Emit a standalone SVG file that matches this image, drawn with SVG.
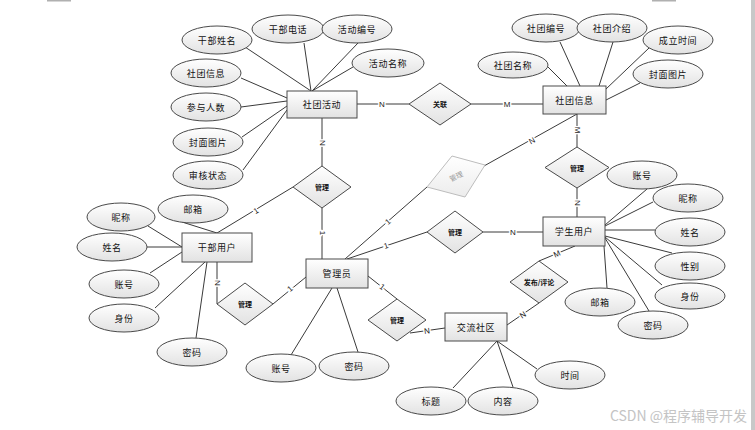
<svg xmlns="http://www.w3.org/2000/svg" width="755" height="430" viewBox="0 0 755 430">
<defs>
<linearGradient id="g" x1="0" y1="0" x2="0" y2="1"><stop offset="0" stop-color="#ffffff"/><stop offset="1" stop-color="#e2e2e2"/></linearGradient>
<linearGradient id="gg" x1="0" y1="0" x2="0" y2="1"><stop offset="0" stop-color="#ffffff"/><stop offset="1" stop-color="#ececec"/></linearGradient>
<style>
.e,.b,.d{fill:url(#g);stroke:#4a4a4a;stroke-width:1}
.gd{fill:url(#gg);stroke:#bdbdbd;stroke-width:1}
.ln{stroke:#3a3a3a;stroke-width:1;fill:none}
.t{font-family:"Noto Sans CJK SC","Noto Sans",sans-serif;font-size:9px;fill:#111;text-anchor:middle;dominant-baseline:central;letter-spacing:0.6px}
.dt{font-family:"Noto Sans CJK SC","Noto Sans",sans-serif;font-size:7px;font-weight:bold;fill:#111;text-anchor:middle;dominant-baseline:central}
.c{font-family:"Liberation Sans",sans-serif;font-size:8px;fill:#222;text-anchor:middle;dominant-baseline:central;stroke:#fff;stroke-width:3px;paint-order:stroke}
</style>
</defs>
<rect width="755" height="430" fill="#fff"/>
<rect x="47" y="0" width="24" height="1.5" fill="#b0b0b0"/>
<rect x="652" y="0" width="24" height="1.5" fill="#b0b0b0"/>
<rect x="751" y="0" width="4" height="430" fill="#c8c8c8"/>

<g id="connectors">
<path class="ln" d="M245,47L311,91M304,43L311,91M358,43L312,91M353,67L312,91M241,78L287,98M241,107L287,101M242,137L287,106M243,170L287,110"/>
<path class="ln" d="M357,104L409,104M471,104L543,104M322,118L322,166"/>
<path class="ln" d="M548,67L567,86M560,42L580,86M613,42L599,86M649,48L606,89M640,83L606,100M577,114L577,147M577,114L484,166"/>
<path class="ln" d="M577,188L577,217M483,232L543,232M647,189L605,225M653,202L605,226M655,230L605,230M672,253L605,236M662,285L605,237M649,311L605,238M607,288L604,246M575,246L539,261M539,303L507,325"/>
<path class="ln" d="M410,333L445,328M497,341L453,388M497,341L513,387M497,341L537,369"/>
<path class="ln" d="M368,276L397,299M345,259L427,187M347,259L427,232M322,259L322,208M306,277L273,304M332,288L291,355M337,288L358,352"/>
<path class="ln" d="M217,233L293,187M148,226L182,247M182,222L217,233M147,247L182,247M150,273L182,252M155,308L205,262M196,338L207,262M217,262L217,304"/>
<text class="c" x="382" y="104">N</text>
<text class="c" x="507" y="104">M</text>
<text class="c" transform="translate(322,143) rotate(90)">N</text>
<text class="c" transform="translate(577,130) rotate(90)">M</text>
<text class="c" transform="translate(577,203) rotate(90)">N</text>
<text class="c" transform="translate(217,283) rotate(90)">N</text>
<text class="c" transform="translate(322,233) rotate(90)">1</text>
<text class="c" x="513" y="232">N</text>
<text class="c" transform="translate(256,211) rotate(-31)">1</text>
<text class="c" transform="translate(388,222) rotate(-41)">1</text>
<text class="c" transform="translate(532,141) rotate(-29)">N</text>
<text class="c" transform="translate(386,246) rotate(-18)">1</text>
<text class="c" transform="translate(290,289) rotate(-40)">1</text>
<text class="c" transform="translate(382,287) rotate(37)">1</text>
<text class="c" transform="translate(427,331) rotate(-8)">N</text>
<text class="c" transform="translate(523,315) rotate(-34)">N</text>
<text class="c" transform="translate(557,254) rotate(-24)">M</text>
</g>

<g id="n-shetuanhuodong"><rect class="b" x="287" y="91" width="70" height="27"/><text class="t" x="322" y="104.5">社团活动</text></g>
<g id="n-shetuanxinxi"><rect class="b" x="543" y="86" width="63" height="28"/><text class="t" x="574.5" y="100">社团信息</text></g>
<g id="n-xueshengyonghu"><rect class="b" x="543" y="217" width="62" height="29"/><text class="t" x="574" y="231.5">学生用户</text></g>
<g id="n-guanliyuan"><rect class="b" x="306" y="259" width="62" height="29"/><text class="t" x="337" y="273.5">管理员</text></g>
<g id="n-ganbuyonghu"><rect class="b" x="182" y="233" width="70" height="29"/><text class="t" x="217" y="247.5">干部用户</text></g>
<g id="n-jiaoliushequ"><rect class="b" x="445" y="313" width="62" height="28"/><text class="t" x="476" y="327">交流社区</text></g>

<g id="r-guanlian"><polygon class="d" points="409,104 440,83 471,104 440,125"/><text class="dt" x="440" y="104">关联</text></g>
<g id="r-guanli1"><polygon class="d" points="293,187 322,166 351,187 322,208"/><text class="dt" x="322" y="187">管理</text></g>
<g id="r-guanli2"><polygon class="d" points="545,167.5 577,147 609,167.5 577,188"/><text class="dt" x="577" y="167.5">管理</text></g>
<g id="r-guanli3"><polygon class="d" points="427,232 455,211 483,232 455,253"/><text class="dt" x="455" y="232">管理</text></g>
<g id="r-guanli4"><polygon class="d" points="217,304 245,283 273,304 245,325"/><text class="dt" x="245" y="304">管理</text></g>
<g id="r-guanli5"><polygon class="d" points="368,320 397,299 426,320 397,341"/><text class="dt" x="397" y="320">管理</text></g>
<g id="r-fabu"><polygon class="d" points="510,282 539,261 568,282 539,303"/><text class="dt" x="539" y="282">发布/评论</text></g>
<g id="r-guanli-gray"><polygon class="gd" points="452,156 485,165 465,197 427,187"/><text class="dt" style="fill:#9a9a9a;font-weight:normal" transform="translate(456,176) rotate(-25)">管理</text></g>

<g id="a-ganbuxingming"><ellipse class="e" cx="217" cy="40" rx="35" ry="14"/><text class="t" x="217" y="40">干部姓名</text></g>
<g id="a-ganbudianhua"><ellipse class="e" cx="288" cy="29" rx="36" ry="14"/><text class="t" x="288" y="29">干部电话</text></g>
<g id="a-huodongbianhao"><ellipse class="e" cx="357" cy="29" rx="35" ry="14"/><text class="t" x="357" y="29">活动编号</text></g>
<g id="a-huodongmingcheng"><ellipse class="e" cx="388" cy="63" rx="36" ry="14"/><text class="t" x="388" y="63">活动名称</text></g>
<g id="a-shetuanxinxi"><ellipse class="e" cx="206" cy="73" rx="35" ry="14"/><text class="t" x="206" y="73">社团信息</text></g>
<g id="a-canyurenshu"><ellipse class="e" cx="206" cy="107" rx="35" ry="14"/><text class="t" x="206" y="107">参与人数</text></g>
<g id="a-fengmian1"><ellipse class="e" cx="208" cy="142" rx="35" ry="14"/><text class="t" x="208" y="142">封面图片</text></g>
<g id="a-shenhe"><ellipse class="e" cx="208" cy="175" rx="35" ry="14"/><text class="t" x="208" y="175">审核状态</text></g>

<g id="a-shetuanmingcheng"><ellipse class="e" cx="513" cy="65" rx="35" ry="13"/><text class="t" x="513" y="65">社团名称</text></g>
<g id="a-shetuanbianhao"><ellipse class="e" cx="546" cy="28" rx="34" ry="14"/><text class="t" x="546" y="28">社团编号</text></g>
<g id="a-shetuanjieshao"><ellipse class="e" cx="612" cy="28" rx="35" ry="14"/><text class="t" x="612" y="28">社团介绍</text></g>
<g id="a-chenglishijian"><ellipse class="e" cx="678" cy="40" rx="35" ry="14"/><text class="t" x="678" y="40">成立时间</text></g>
<g id="a-fengmian2"><ellipse class="e" cx="668" cy="74" rx="35" ry="14"/><text class="t" x="668" y="74">封面图片</text></g>

<g id="a-xs-zhanghao"><ellipse class="e" cx="642" cy="175" rx="35" ry="14"/><text class="t" x="642" y="175">账号</text></g>
<g id="a-xs-nicheng"><ellipse class="e" cx="688" cy="198" rx="35" ry="14"/><text class="t" x="688" y="198">昵称</text></g>
<g id="a-xs-xingming"><ellipse class="e" cx="690" cy="232" rx="35" ry="14"/><text class="t" x="690" y="232">姓名</text></g>
<g id="a-xs-xingbie"><ellipse class="e" cx="690" cy="266" rx="35" ry="14"/><text class="t" x="690" y="266">性别</text></g>
<g id="a-xs-shenfen"><ellipse class="e" cx="690" cy="296" rx="35" ry="13"/><text class="t" x="690" y="296">身份</text></g>
<g id="a-xs-youxiang"><ellipse class="e" cx="600" cy="302" rx="35" ry="14"/><text class="t" x="600" y="302">邮箱</text></g>
<g id="a-xs-mima"><ellipse class="e" cx="653" cy="325" rx="35" ry="14"/><text class="t" x="653" y="325">密码</text></g>

<g id="a-gb-nicheng"><ellipse class="e" cx="121" cy="217" rx="34" ry="14"/><text class="t" x="121" y="217">昵称</text></g>
<g id="a-gb-youxiang"><ellipse class="e" cx="193" cy="209" rx="35" ry="14"/><text class="t" x="193" y="209">邮箱</text></g>
<g id="a-gb-xingming"><ellipse class="e" cx="112" cy="247" rx="35" ry="14"/><text class="t" x="112" y="247">姓名</text></g>
<g id="a-gb-zhanghao"><ellipse class="e" cx="124" cy="284" rx="35" ry="14"/><text class="t" x="124" y="284">账号</text></g>
<g id="a-gb-shenfen"><ellipse class="e" cx="124" cy="318" rx="35" ry="14"/><text class="t" x="124" y="318">身份</text></g>
<g id="a-gb-mima"><ellipse class="e" cx="192" cy="352" rx="35" ry="14"/><text class="t" x="192" y="352">密码</text></g>

<g id="a-gl-zhanghao"><ellipse class="e" cx="281" cy="368" rx="35" ry="14"/><text class="t" x="281" y="368">账号</text></g>
<g id="a-gl-mima"><ellipse class="e" cx="354" cy="366" rx="35" ry="14"/><text class="t" x="354" y="366">密码</text></g>

<g id="a-biaoti"><ellipse class="e" cx="431" cy="401" rx="35" ry="14"/><text class="t" x="431" y="401">标题</text></g>
<g id="a-neirong"><ellipse class="e" cx="503" cy="401" rx="35" ry="14"/><text class="t" x="503" y="401">内容</text></g>
<g id="a-shijian"><ellipse class="e" cx="570" cy="375" rx="35" ry="14"/><text class="t" x="570" y="375">时间</text></g>

<text x="747" y="421" text-anchor="end" font-family="Noto Sans CJK SC, Noto Sans, sans-serif" font-size="14" fill="#c4c4c4">CSDN @程序辅导开发</text>
</svg>
